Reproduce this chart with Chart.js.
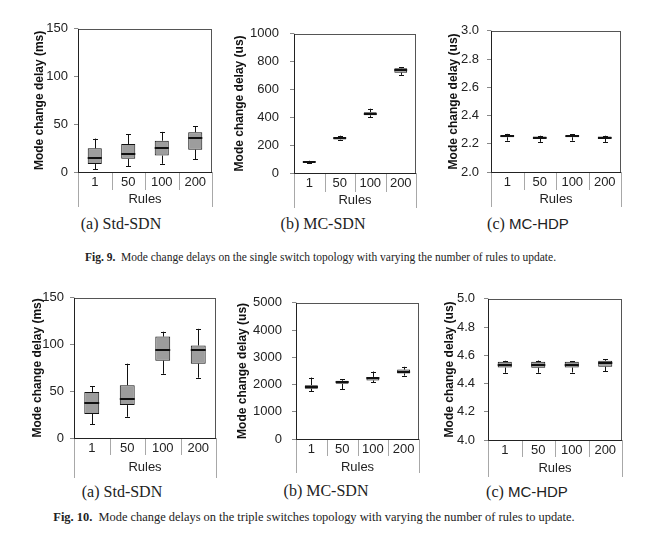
<!DOCTYPE html>
<html>
<head>
<meta charset="utf-8">
<script src="https://cdn.jsdelivr.net/npm/chart.js@4.4.0/dist/chart.umd.min.js"></script>
<style>
  html, body { margin: 0; padding: 0; background: #fff; }
  #page { position: relative; width: 648px; height: 543px; overflow: hidden; background: #fff; }
  canvas { position: absolute; }
  .sub { position: absolute; transform: translate(-50%, -50%); font-family: "Liberation Serif", serif; font-size: 16px; color: #222; white-space: nowrap; }
  .sub .ss { font-family: "Liberation Sans", Arial, sans-serif; font-size: 15px; }
  .fig { position: absolute; transform: translate(-50%, -50%); font-family: "Liberation Serif", serif; font-size: 11px; color: #222; white-space: nowrap; }
  .fig b { font-weight: bold; }
</style>
</head>
<body>
<div id="page"></div>
<script>
// ---------- data ----------
const rules = ['1', '50', '100', '200'];

// Fig. 9 (single switch)
const stdSingleMin = [2.8, 6.2, 8.6, 13.4];
const stdSingleQ1  = [8.3, 13.8, 17.2, 23.4];
const stdSingleMed = [14.8, 19.3, 25.5, 35.2];
const stdSingleQ3  = [24.8, 29.3, 32.8, 41.7];
const stdSingleMax = [35, 39.7, 42, 48];

const mcSdnSingleMin = [74, 238, 402, 705];
const mcSdnSingleQ1  = [77, 240, 414, 721];
const mcSdnSingleMed = [81, 248, 425, 737];
const mcSdnSingleQ3  = [85, 256, 437, 753];
const mcSdnSingleMax = [88, 268, 462, 760];

const mcHdpSingleMin = [2.222, 2.213, 2.222, 2.213];
const mcHdpSingleQ1  = [2.246, 2.238, 2.246, 2.238];
const mcHdpSingleMed = [2.252, 2.244, 2.252, 2.244];
const mcHdpSingleQ3  = [2.259, 2.251, 2.259, 2.251];
const mcHdpSingleMax = [2.270, 2.257, 2.268, 2.257];

// Fig. 10 (triple switches)
const stdTripleMin = [14.6, 22.7, 68.7, 64.5];
const stdTripleQ1  = [25.8, 35.2, 82.7, 79.5];
const stdTripleMed = [37.7, 41.5, 94.5, 94.2];
const stdTripleQ3  = [49.2, 56.5, 108.5, 99];
const stdTripleMax = [55.5, 79.5, 113.7, 116.8];

const mcSdnTripleMin = [1756, 1826, 2093, 2326];
const mcSdnTripleQ1  = [1849, 2024, 2151, 2407];
const mcSdnTripleMed = [1919, 2093, 2221, 2477];
const mcSdnTripleQ3  = [1977, 2140, 2279, 2547];
const mcSdnTripleMax = [2256, 2198, 2477, 2651];

const mcHdpTripleMin = [4.476, 4.476, 4.478, 4.487];
const mcHdpTripleQ1  = [4.513, 4.512, 4.513, 4.519];
const mcHdpTripleMed = [4.533, 4.531, 4.531, 4.542];
const mcHdpTripleQ3  = [4.554, 4.554, 4.554, 4.561];
const mcHdpTripleMax = [4.561, 4.563, 4.558, 4.572];

const xTitle = 'Rules';
const yTitleMs = 'Mode change delay (ms)';
const yTitleUs = 'Mode change delay (us)';

// ---------- layout (positions only) ----------
const panels = [
  { area: {l: 78,  r: 212, t: 27,  b: 172}, titleX: 39,  gap: 10, rulesY: 200, inner: 18, outer: 35,
    stats: [stdSingleMin, stdSingleQ1, stdSingleMed, stdSingleQ3, stdSingleMax], y: [0, 150, 50], dec: 0, yTitle: yTitleMs },
  { area: {l: 294, r: 416, t: 27,  b: 173}, titleX: 239, gap: 15, rulesY: 201, inner: 19, outer: 35,
    stats: [mcSdnSingleMin, mcSdnSingleQ1, mcSdnSingleMed, mcSdnSingleQ3, mcSdnSingleMax], y: [0, 1000, 200], dec: 0, yTitle: yTitleUs },
  { area: {l: 491, r: 621, t: 27,  b: 172}, titleX: 453, gap: 12, rulesY: 200, inner: 18, outer: 35,
    stats: [mcHdpSingleMin, mcHdpSingleQ1, mcHdpSingleMed, mcHdpSingleQ3, mcHdpSingleMax], y: [2.0, 3.0, 0.2], dec: 1, yTitle: yTitleUs },
  { area: {l: 74,  r: 216, t: 296, b: 438}, titleX: 37,  gap: 10, rulesY: 468, inner: 17, outer: 40,
    stats: [stdTripleMin, stdTripleQ1, stdTripleMed, stdTripleQ3, stdTripleMax], y: [0, 150, 50], dec: 0, yTitle: yTitleMs },
  { area: {l: 296, r: 419, t: 297, b: 439}, titleX: 242, gap: 14, rulesY: 468, inner: 17, outer: 34,
    stats: [mcSdnTripleMin, mcSdnTripleQ1, mcSdnTripleMed, mcSdnTripleQ3, mcSdnTripleMax], y: [0, 5000, 1000], dec: 0, yTitle: yTitleUs },
  { area: {l: 488, r: 622, t: 294, b: 440}, titleX: 449, gap: 13, rulesY: 469, inner: 17, outer: 37,
    stats: [mcHdpTripleMin, mcHdpTripleQ1, mcHdpTripleMed, mcHdpTripleQ3, mcHdpTripleMax], y: [4.0, 5.0, 0.2], dec: 1, yTitle: yTitleUs }
];

const subCaptions = [
  { x: 121, y: 224, html: '(a) Std-SDN' },
  { x: 323, y: 224, html: '(b) MC-SDN' },
  { x: 528, y: 224, html: '(c) <span class="ss">MC-HDP</span>' },
  { x: 122, y: 492, html: '(a) Std-SDN' },
  { x: 326, y: 491, html: '(b) MC-SDN' },
  { x: 527, y: 492, html: '(c) <span class="ss">MC-HDP</span>' }
];
const figCaptions = [
  { l: 85, r: 556, y: 257, html: '<b>Fig. 9.</b>&nbsp; Mode change delays on the single switch topology with varying the number of rules to update.' },
  { l: 53, r: 575, y: 517, html: '<b>Fig. 10.</b>&nbsp; Mode change delays on the triple switches topology with varying the number of rules to update.' }
];

// ---------- plugins ----------
const boxPlot = {
  id: 'boxPlot',
  afterDatasetsDraw(chart, args, opts) {
    const ctx = chart.ctx, ys = chart.scales.y;
    const meta = chart.getDatasetMeta(0);
    ctx.save();
    ctx.strokeStyle = '#111';
    meta.data.forEach((bar, i) => {
      const x = Math.round(bar.x) + 0.5, w = bar.width;
      const pMin = ys.getPixelForValue(opts.min[i]);
      const pMax = ys.getPixelForValue(opts.max[i]);
      const pQ1 = ys.getPixelForValue(opts.q1[i]);
      const pQ3 = ys.getPixelForValue(opts.q3[i]);
      const pMed = ys.getPixelForValue(opts.med[i]);
      ctx.lineWidth = 1;
      ctx.beginPath();
      ctx.moveTo(x, pQ3); ctx.lineTo(x, pMax);
      ctx.moveTo(x, pQ1); ctx.lineTo(x, pMin);
      ctx.moveTo(x - 2.5, Math.round(pMax) + 0.5); ctx.lineTo(x + 2.5, Math.round(pMax) + 0.5);
      ctx.moveTo(x - 2.5, Math.round(pMin) + 0.5); ctx.lineTo(x + 2.5, Math.round(pMin) + 0.5);
      ctx.stroke();
      ctx.lineWidth = 2;
      ctx.beginPath();
      ctx.moveTo(bar.x - w / 2, Math.round(pMed)); ctx.lineTo(bar.x + w / 2, Math.round(pMed));
      ctx.stroke();
    });
    ctx.restore();
  }
};

const frame = {
  id: 'frame',
  afterDraw(chart, args, opts) {
    const ctx = chart.ctx, a = chart.chartArea, xs = chart.scales.x;
    const n = xs.ticks.length;
    const cw = (xs.right - xs.left) / n;
    ctx.save();
    // category separators below the axis
    ctx.strokeStyle = '#a8a8a8';
    ctx.lineWidth = 1;
    ctx.beginPath();
    for (let i = 0; i <= n; i++) {
      const px = Math.round(xs.left + i * cw) + 0.5;
      const len = (i === 0 || i === n) ? opts.outer : opts.inner;
      ctx.moveTo(px, a.bottom);
      ctx.lineTo(px, a.bottom + len);
    }
    ctx.stroke();
    // plot frame
    ctx.strokeStyle = '#555';
    ctx.strokeRect(Math.round(a.left) + 0.5, Math.round(a.top) + 0.5, Math.round(a.right - a.left) - 1, Math.round(a.bottom - a.top));
    // axes
    ctx.strokeStyle = '#222';
    ctx.beginPath();
    ctx.moveTo(Math.round(a.left) + 0.5, a.top);
    ctx.lineTo(Math.round(a.left) + 0.5, Math.round(a.bottom) + 0.5);
    ctx.lineTo(a.right, Math.round(a.bottom) + 0.5);
    ctx.stroke();
    ctx.restore();
  }
};

// ---------- build ----------
const page = document.getElementById('page');

panels.forEach((p) => {
  const a = p.area;
  const cl = Math.round(p.titleX - 7.2);
  const ct = a.t - 12;
  const cwid = a.r - cl + 6;
  const xH = p.rulesY - a.b + 7;
  const cht = Math.max(a.b + p.outer + 2, a.b + xH) - ct;
  const canvas = document.createElement('canvas');
  canvas.width = cwid; canvas.height = cht;
  canvas.style.left = cl + 'px'; canvas.style.top = ct + 'px';
  canvas.style.width = cwid + 'px'; canvas.style.height = cht + 'px';
  page.appendChild(canvas);
  const [mn, q1, med, q3, mx] = p.stats;
  new Chart(canvas, {
    type: 'bar',
    data: {
      labels: rules,
      datasets: [{
        data: q1.map((v, i) => [v, q3[i]]),
        backgroundColor: '#9d9d9d',
        borderColor: '#111',
        borderWidth: 1,
        borderSkipped: false,
        barPercentage: 0.42,
        categoryPercentage: 1
      }]
    },
    options: {
      responsive: false,
      animation: false,
      devicePixelRatio: 1,
      layout: { padding: { top: a.t - ct, right: cwid - (a.r - cl), left: 0, bottom: cht - (a.b - ct) - xH } },
      plugins: {
        legend: { display: false },
        tooltip: { enabled: false },
        boxPlot: { min: mn, q1: q1, med: med, q3: q3, max: mx },
        frame: { inner: p.inner, outer: p.outer }
      },
      scales: {
        x: {
          grid: { display: false, drawTicks: false },
          border: { display: false },
          ticks: { padding: 3, color: '#222', font: { family: 'Liberation Sans', size: 13 } },
          title: { display: true, text: xTitle, padding: 0, color: '#222', font: { family: 'Liberation Sans', size: 13 } },
          afterFit: (s) => { s.height = xH; }
        },
        y: {
          min: p.y[0], max: p.y[1],
          grid: { drawOnChartArea: false, drawTicks: true, tickLength: 4, color: '#888' },
          border: { display: false },
          ticks: { stepSize: p.y[2], padding: p.gap - 4, color: '#222', font: { family: 'Liberation Sans', size: 13 },
                   callback: (v) => Number(v).toFixed(p.dec) },
          title: { display: true, text: p.yTitle, padding: 0, color: '#111', font: { family: 'Liberation Sans', size: 12, weight: 'bold' } },
          afterFit: (s) => { s.width = a.l - cl; }
        }
      }
    },
    plugins: [boxPlot, frame]
  });
});

subCaptions.forEach((c) => {
  const d = document.createElement('div');
  d.className = 'sub';
  d.style.left = c.x + 'px'; d.style.top = c.y + 'px';
  d.innerHTML = c.html;
  page.appendChild(d);
});

figCaptions.forEach((c) => {
  const d = document.createElement('div');
  d.className = 'fig';
  d.innerHTML = c.html;
  d.style.fontSize = '20px';
  page.appendChild(d);
  const w = d.getBoundingClientRect().width;
  d.style.fontSize = (20 * (c.r - c.l) / w).toFixed(2) + 'px';
  d.style.left = ((c.l + c.r) / 2) + 'px'; d.style.top = c.y + 'px';
});
</script>
</body>
</html>
